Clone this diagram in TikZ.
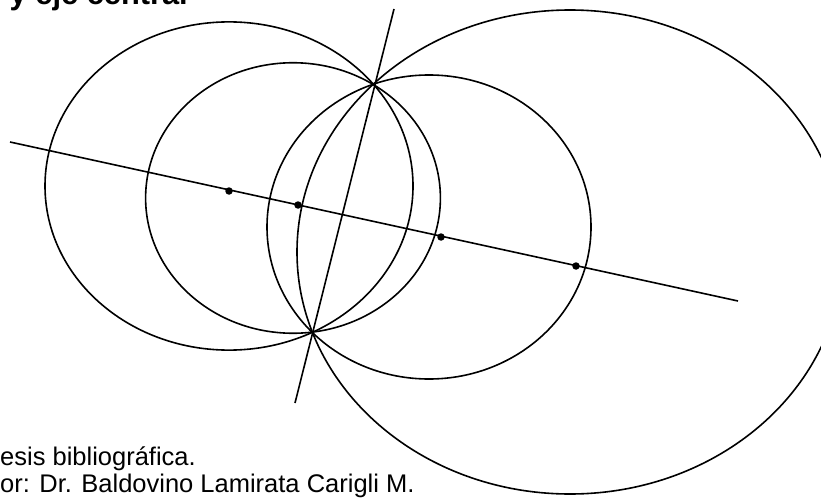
\documentclass[tikz,border=0pt]{standalone}
\usepackage{fontspec}
\setmainfont{Liberation Sans}

\begin{document}
\begin{tikzpicture}[
  x=1pt, y=-1pt,
  curve/.style={line width=1.6pt, black},
  centre/.style={circle, fill=black, inner sep=0pt, minimum size=7.5pt},
  caption/.style={anchor=base west, inner sep=0pt},
]
\useasboundingbox (0,0) rectangle (821,500);

% common points and line ends
\coordinate (p1)    at (374,85);
\coordinate (p2)    at (313,332);
\coordinate (rtop)  at (394,9);
\coordinate (rbot)  at (295,403);
\coordinate (aleft) at (10,142);
\coordinate (aright) at (738,301);

% circles of the pencil
\coordinate (c1) at (229,186);
\coordinate (c2) at (293,198);
\coordinate (c3) at (429,227);
\coordinate (c4) at (570,252);
\draw[curve] (c1) ellipse [x radius=184, y radius=164.1];
\draw[curve] (c2) ellipse [x radius=147.4, y radius=135.25];
\draw[curve] (c3) ellipse [x radius=162, y radius=152];
\draw[curve] (c4) ellipse [x radius=273, y radius=242];

% radical axis and central axis
\draw[curve] (rtop) -- (rbot);
\draw[curve] (aleft) -- (aright);

\node[centre] (o1) at (229,191) {};
\node[centre] (o2) at (298,205) {};
\node[centre] (o3) at (441,237) {};
\node[centre] (o4) at (576,266) {};

\node[caption, font=\bfseries\fontsize{30.8}{36}\selectfont] (title) at (-11,5) {r y eje central};
\node[caption, font=\fontsize{25.5}{30}\selectfont] (ref1) at (0,465) {esis bibliográfica.};
\node[caption, font=\fontsize{25.5}{30}\selectfont] (ref2) at (0,492) {or: Dr. Baldovino Lamirata Carigli M.};
\end{tikzpicture}
\end{document}
